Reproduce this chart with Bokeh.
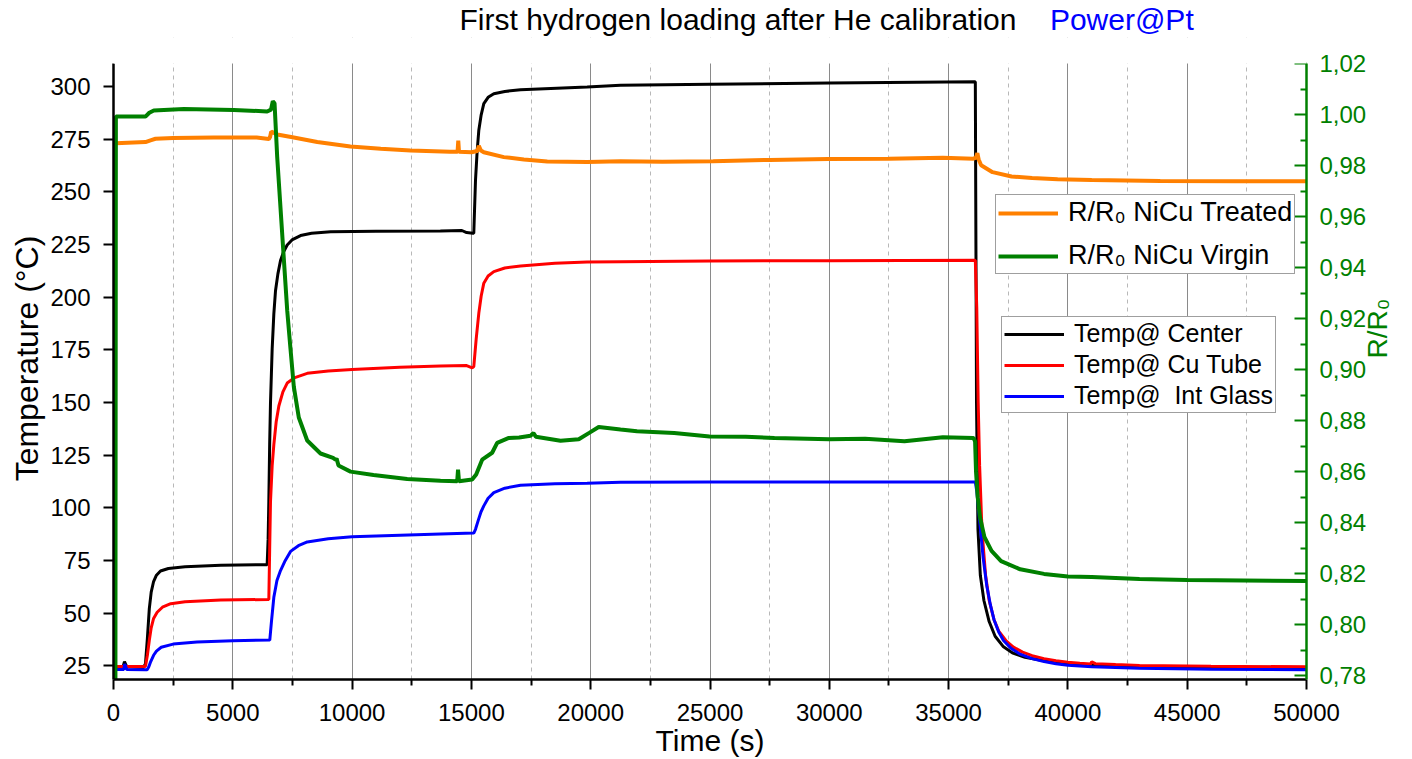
import math
from bokeh.plotting import figure
from bokeh.layouts import column
from bokeh.models import (Range1d, LinearAxis, FixedTicker, Legend, LegendItem,
                          BoxAnnotation, CustomJSTickFormatter)
from bokeh.core.properties import value
from bokeh.embed import file_html
from bokeh.resources import INLINE

FONT = "Liberation Sans"

# ---------------- data ----------------
center_t = [0, 400, 460, 560, 1260, 1340, 1420, 1500, 1580, 1680, 1800, 1970, 2300, 3000,
            4500, 6440, 6480, 6510, 6545, 6580, 6650, 6720, 6790, 6890, 7000, 7130, 7280,
            7500, 7840, 8300, 9100, 11000, 13700, 14600, 14800, 15060, 15100, 15172, 15240,
            15311, 15410, 15520, 15700, 15940, 16400, 17060, 19850, 21250, 25000, 30000,
            36120, 36170, 36230, 36330, 36480, 36700, 36950, 37300, 37700, 38200, 39000,
            40000, 41000, 43000, 46000, 50000]
center_T = [24.5, 24.5, 27.0, 24.5, 24.2, 26, 38, 52, 60, 65, 68, 70, 71.2, 72,
            72.7, 73.0, 85, 103, 130, 150, 175.5, 192, 203, 211, 217.4, 221.5, 224.7,
            227.3, 229.2, 230.3, 231.0, 231.2, 231.4, 231.6, 230.6, 230.3, 230.3, 255.5, 269,
            279.2, 286.5, 291.8, 294.8, 296.5, 297.6, 298.4, 299.7, 300.5, 301.0, 301.6,
            302.2, 150, 90, 68, 56, 46, 39, 34, 31, 29, 27.4,
            26.2, 25.4, 24.8, 24.4, 24.2]

cu_t = [0, 1300, 1340, 1420, 1500, 1580, 1680, 1830, 2050, 2400, 3000, 4500, 6510, 6545,
        6580, 6650, 6720, 6820, 6930, 7100, 7280, 7600, 8120, 9000, 10000, 12000, 13700,
        14800, 15032, 15100, 15200, 15311, 15410, 15520, 15700, 15940, 16400, 17060, 18500,
        19850, 21250, 25000, 30000, 36120, 36180, 36240, 36300, 36380, 36450, 36550, 36700,
        36900, 37100, 37400, 37700, 38100, 38500, 39000, 39500, 40000, 40500, 40950, 41000,
        41150, 42000, 43000, 46000, 50000]
cu_T = [24.7, 24.7, 24.8, 30, 37, 43, 47.5, 50.4, 52.8, 54.5, 55.4, 56.2, 56.5, 80,
        103, 120, 130, 141, 148.3, 155, 159.2, 161.8, 163.8, 164.9, 165.6, 166.7, 167.3,
        167.5, 166.4, 167.0, 180, 192.4, 200.5, 206.6, 210, 212.1, 213.8, 214.8, 216.0,
        216.6, 216.8, 217.1, 217.3, 217.5, 195, 150, 120, 95, 82, 68, 56,
        47, 41.5, 37, 34, 31.5, 29.8, 28.4, 27.4, 26.7, 26.2, 25.9, 26.9,
        26.0, 25.6, 25.2, 24.8, 24.5]

glass_t = [0, 430, 470, 560, 1340, 1410, 1480, 1560, 1680, 1800, 2000, 2500, 3500, 5000,
           6550, 6620, 6720, 6850, 7000, 7200, 7420, 7750, 8120, 9000, 10000, 13700, 15100,
           15172, 15300, 15400, 15520, 15700, 15940, 16400, 17060, 18500, 19850, 21250,
           25000, 36120, 36180, 36250, 36350, 36450, 36600, 36750, 36900, 37100, 37300,
           37600, 38000, 38500, 39000, 39500, 40000, 41000, 43000, 46000, 50000]
glass_T = [23.3, 23.3, 25.8, 23.2, 23.1, 23.1, 24.5, 27, 30, 32, 33.8, 35.3, 36.3, 36.9,
           37.2, 46, 57.5, 65.5, 70.2, 75, 79.3, 82, 83.8, 85.3, 86.2, 87.5, 88.0,
           89.8, 94.5, 98, 100.9, 104.5, 107.2, 109.3, 110.7, 111.4, 111.7, 112.1,
           112.2, 112.2, 108, 100, 88, 76, 63, 54, 47, 41, 37,
           33.5, 30.5, 28.4, 27, 26, 25.3, 24.5, 23.8, 23.4, 23.1]

treated_t = [100, 1340, 1550, 1760, 2500, 4200, 6000, 6510, 6560, 6610, 6700, 6860, 7500,
             8540, 9930, 11200, 12450, 14100, 14420, 14450, 14480, 15000, 15250, 15311, 15400,
             15520, 16360, 17200, 18180, 19850, 21250, 23000, 25130, 27500, 29950, 32500,
             34760, 36040, 36150, 36205, 36260, 36364, 36842, 37640, 38500, 39570, 41000,
             43870, 47000, 50000]
treated_R = [0.9888, 0.9893, 0.9900, 0.9906, 0.9909, 0.9911, 0.9911, 0.9905, 0.9912, 0.9934,
             0.9930, 0.9923, 0.9912, 0.9893, 0.9876, 0.9867, 0.9860, 0.9855, 0.9855, 0.9899,
             0.9855, 0.9853, 0.9858, 0.9878, 0.9860, 0.9853, 0.9834, 0.9825, 0.9817, 0.9815,
             0.9818, 0.9816, 0.9818, 0.9823, 0.9827, 0.9828, 0.9832, 0.9828, 0.9832, 0.9850,
             0.9825, 0.9802, 0.9775, 0.9758, 0.9752, 0.9747, 0.9744, 0.9740, 0.9739, 0.9739]

virgin_t = [80, 100, 1340, 1500, 1690, 2950, 5040, 6440, 6600, 6677, 6750, 6861, 7070, 7280,
            7418, 7557, 7766, 8118, 8676, 9200, 9304, 9350, 9430, 9933, 10897, 12309, 13705,
            14404, 14440, 14480, 15032, 15200, 15451, 15870, 16080, 16570, 17000, 17480,
            17600, 17700, 18735, 19500, 19937, 20335, 21250, 21940, 23500, 24980, 26500,
            27700, 30000, 31500, 33150, 34760, 36044, 36110, 36150, 36220, 36320, 36500,
            36800, 37200, 38000, 39000, 40000, 41000, 43000, 45000, 50000]
virgin_R = [0.7700, 0.9993, 0.9993, 1.0008, 1.0017, 1.0023, 1.0019, 1.0013, 1.0020, 1.0053,
            1.0045, 0.9834, 0.9533, 0.9233, 0.9082, 0.8934, 0.8813, 0.8723, 0.8672, 0.8655,
            0.8648, 0.8652, 0.8625, 0.8601, 0.8588, 0.8572, 0.8565, 0.8563, 0.8609, 0.8563,
            0.8570, 0.8590, 0.8648, 0.8675, 0.8714, 0.8733, 0.8735, 0.8742, 0.8752, 0.8738,
            0.8722, 0.8728, 0.8753, 0.8776, 0.8766, 0.8759, 0.8752, 0.8739, 0.8738, 0.8733,
            0.8728, 0.8730, 0.8720, 0.8736, 0.8733, 0.8720, 0.8600, 0.8500, 0.8420, 0.8345,
            0.8290, 0.8250, 0.8218, 0.8200, 0.8190, 0.8188, 0.8180, 0.8176, 0.8172]

x_ticks = [0, 5000, 10000, 15000, 20000, 25000, 30000, 35000, 40000, 45000, 50000]
x_minor = [2500, 7500, 12500, 17500, 22500, 27500, 32500, 37500, 42500, 47500]
y_ticks = [25, 50, 75, 100, 125, 150, 175, 200, 225, 250, 275, 300]
r_ticks = [0.78, 0.80, 0.82, 0.84, 0.86, 0.88, 0.90, 0.92, 0.94, 0.96, 0.98, 1.00, 1.02]
r_minor = [0.79, 0.81, 0.83, 0.85, 0.87, 0.89, 0.91, 0.93, 0.95, 0.97, 0.99, 1.01]

title_texts = ["First hydrogen loading after He calibration", "Power@Pt"]
title_x = [14501, 39245]
title_colors = ["black", "#0000FF"]

# axis extents (the drawn part of each axis) and the headroom above them
T_LO, T_HI, T_TOP = 18.5, 310.9, 323.2
R_LO, R_HI, R_TOP = 0.7786, 1.0201, 1.0303

xr = Range1d(0, 50000)

# ---------------- title strip ----------------
top = figure(width=1412, height=37, output_backend="svg", toolbar_location=None,
             x_range=xr, y_range=Range1d(0, 37),
             x_axis_location=None, y_axis_location=None,
             min_border_left=113, min_border_right=106, min_border_top=0,
             min_border_bottom=0)
top.outline_line_color = None
top.grid.visible = False
top.text(x=title_x, y=[18, 18], text=title_texts, text_color=title_colors,
         text_font=value(FONT), text_font_size="30px", text_baseline="alphabetic",
         text_align="left")

# ---------------- main figure ----------------
p = figure(width=1412, height=722, output_backend="svg", toolbar_location=None,
           x_range=xr, y_range=Range1d(T_LO, T_TOP),
           min_border_left=113, min_border_right=106, min_border_top=0,
           min_border_bottom=78)
p.outline_line_color = None
p.background_fill_color = "white"
p.border_fill_color = "white"

xticker = FixedTicker(ticks=x_ticks, minor_ticks=x_minor)
p.xaxis.ticker = xticker
p.xgrid.ticker = xticker
p.xgrid.grid_line_color = "#8a8a8a"
p.xgrid.grid_line_width = 1
p.xgrid.minor_grid_line_color = "#b8b8b8"
p.xgrid.minor_grid_line_dash = "4 4"
p.ygrid.grid_line_color = None

xa = p.xaxis[0]
xa.axis_line_width = 2.5
xa.axis_line_color = "black"
xa.major_tick_out = 10
xa.major_tick_in = 0
xa.minor_tick_out = 6
xa.minor_tick_in = 0
xa.major_tick_line_width = 2
xa.minor_tick_line_width = 2
xa.major_label_text_font = FONT
xa.major_label_text_font_size = "24px"
xa.major_label_text_color = "black"
xa.major_label_standoff = 14
xa.axis_label = "Time (s)"
xa.axis_label_text_font = FONT
xa.axis_label_text_font_size = "30px"
xa.axis_label_text_font_style = "normal"
xa.axis_label_text_color = "black"
xa.axis_label_standoff = 0

ya = p.yaxis[0]
ya.ticker = FixedTicker(ticks=y_ticks)
ya.bounds = (T_LO, T_HI)
ya.axis_line_width = 2.5
ya.axis_line_color = "black"
ya.major_tick_out = 10
ya.major_tick_in = 0
ya.major_tick_line_width = 2
ya.minor_tick_line_color = None
ya.major_label_text_font = FONT
ya.major_label_text_font_size = "24px"
ya.major_label_text_color = "black"
ya.major_label_standoff = 13
ya.axis_label = "Temperature (°C)"
ya.axis_label_text_font = FONT
ya.axis_label_text_font_size = "32px"
ya.axis_label_text_font_style = "normal"
ya.axis_label_text_color = "black"
ya.axis_label_standoff = 2

GREEN = "#008000"
p.extra_y_ranges = {"r": Range1d(R_LO, R_TOP)}
rax = LinearAxis(y_range_name="r",
                 ticker=FixedTicker(ticks=r_ticks, minor_ticks=r_minor),
                 formatter=CustomJSTickFormatter(code="return tick.toFixed(2).replace('.', ',');"))
rax.bounds = (R_LO, R_HI)
rax.axis_line_color = GREEN
rax.axis_line_width = 2.5
rax.major_tick_line_color = GREEN
rax.minor_tick_line_color = GREEN
rax.major_tick_line_width = 2
rax.minor_tick_line_width = 2
rax.major_tick_in = 12
rax.major_tick_out = 0
rax.minor_tick_in = 6
rax.minor_tick_out = 0
rax.major_label_text_font = FONT
rax.major_label_text_font_size = "24px"
rax.major_label_text_color = GREEN
rax.major_label_standoff = 13
rax.axis_label = "R/R₀"
rax.axis_label_text_font = FONT
rax.axis_label_text_font_size = "28px"
rax.axis_label_text_font_style = "normal"
rax.axis_label_text_color = GREEN
rax.axis_label_standoff = 8
rax.axis_label_orientation = math.pi / 2
p.add_layout(rax, "right")

# ---------------- series ----------------
r_c = p.line(center_t, center_T, line_color="black", line_width=3)
r_cu = p.line(cu_t, cu_T, line_color="#FF0000", line_width=3)
r_g = p.line(glass_t, glass_T, line_color="#0000FF", line_width=3)
r_tr = p.line(treated_t, treated_R, line_color="#FF8000", line_width=4, y_range_name="r")
r_vi = p.line(virgin_t, virgin_R, line_color=GREEN, line_width=4, y_range_name="r")

# blank band above the axes (hides the grid lines there)
p.add_layout(BoxAnnotation(bottom=T_HI, fill_color="white", fill_alpha=1.0,
                           line_color=None))

leg1 = Legend(items=[LegendItem(label="R/R₀ NiCu Treated", renderers=[r_tr]),
                     LegendItem(label="R/R₀ NiCu Virgin", renderers=[r_vi])],
              location=(882, 405))
leg2 = Legend(items=[LegendItem(label="Temp@ Center", renderers=[r_c]),
                     LegendItem(label="Temp@ Cu Tube", renderers=[r_cu]),
                     LegendItem(label="Temp@  Int Glass", renderers=[r_g])],
              location=(888, 266))
for lg, fs, sp in ((leg1, "27px", 12), (leg2, "25px", 2)):
    lg.label_text_font = FONT
    lg.label_text_font_size = fs
    lg.label_text_color = "black"
    lg.glyph_width = 60
    lg.glyph_height = 20
    lg.label_height = 20
    lg.label_standoff = 10
    lg.padding = 2
    lg.spacing = sp
    lg.margin = 0
    lg.border_line_color = "#404040"
    lg.border_line_width = 1
    lg.background_fill_color = "white"
    lg.background_fill_alpha = 1
    p.add_layout(lg, "center")

page = column(top, p, spacing=0)
open("out.html", "w").write(file_html(page, INLINE))
